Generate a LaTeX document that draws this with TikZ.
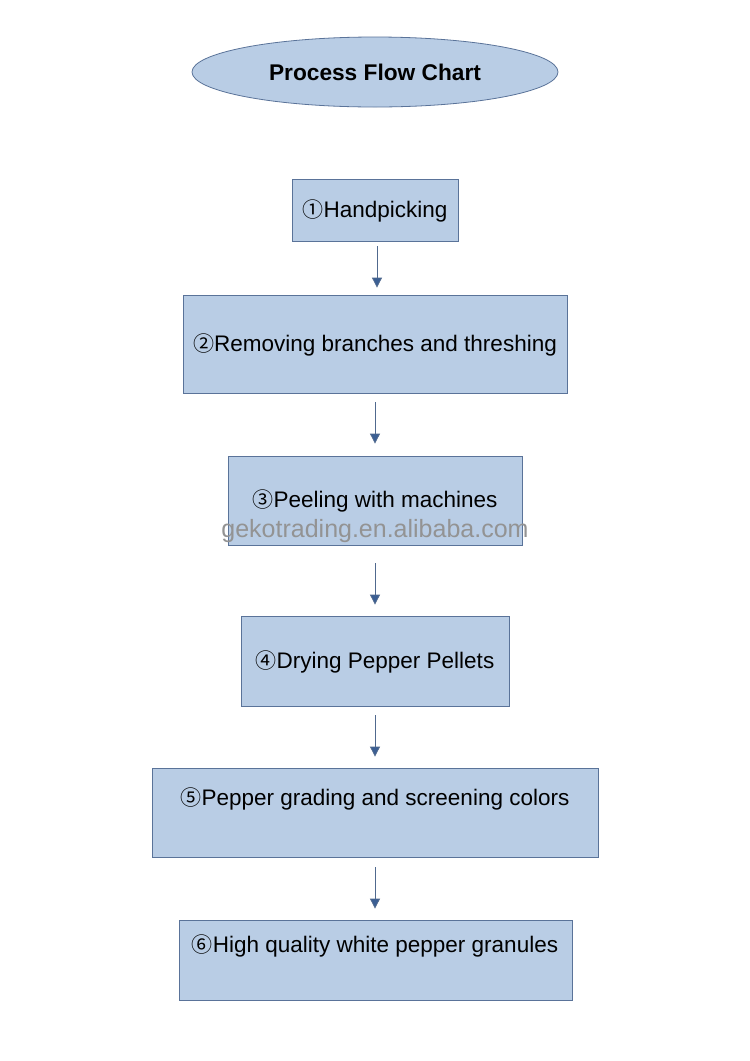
\documentclass[tikz,border=0pt]{standalone}
\usepackage{fontspec}
\setmainfont{Liberation Sans}
\newfontfamily\cjkfont{Noto Sans CJK SC}
\usetikzlibrary{shapes.geometric,arrows.meta}
\definecolor{boxfill}{HTML}{B9CDE5}
\definecolor{boxline}{HTML}{5A7399}
\definecolor{arrowcol}{HTML}{3B5F94}
\newcommand{\cnum}[1]{{\cjkfont\fontsize{21}{21}\selectfont #1}}
\tikzset{
  x=1pt, y=-1pt,
  stepbox/.style={draw=boxline, line width=0.8pt, fill=boxfill, rectangle, inner sep=0pt},
  steptext/.style={font=\fontsize{22.5}{26}\selectfont, text=black, inner sep=0pt},
  flow/.style={draw=arrowcol!70!gray, line width=0.8pt,
    -{Triangle[length=10pt,width=10pt,fill=arrowcol]}},
}
\begin{document}
\begin{tikzpicture}
\useasboundingbox (0,0) rectangle (750,1061);
\fill[white] (0,0) rectangle (750,1061);
\node[ellipse, draw=boxline, line width=0.8pt, fill=boxfill, minimum width=366pt, minimum height=70pt, inner sep=0pt,
  font=\bfseries\fontsize{22.7}{26}\selectfont] (title) at (375,72) {Process Flow Chart};

\node[stepbox, minimum width=166pt, minimum height=62pt] (s1) at (375,210) {};
\node[steptext] (t1) at (375,211) {\cnum{①}Handpicking};
\node[stepbox, minimum width=384pt, minimum height=98pt] (s2) at (375,344) {};
\node[steptext] (t2) at (375,345) {\cnum{②}Removing branches and threshing};
\node[stepbox, minimum width=294pt, minimum height=89pt] (s3) at (375,500.5) {};
\node[steptext] (t3) at (375,501) {\cnum{③}Peeling with machines};
\node[stepbox, minimum width=268pt, minimum height=90pt] (s4) at (375,661) {};
\node[steptext] (t4) at (375,662) {\cnum{④}Drying Pepper Pellets};
\node[stepbox, minimum width=446pt, minimum height=89pt] (s5) at (375,812.5) {};
\node[steptext] (t5) at (375,799) {\cnum{⑤}Pepper grading and screening colors};
\node[stepbox, minimum width=393pt, minimum height=80pt] (s6) at (375.5,960) {};
\node[steptext] (t6) at (375,946) {\cnum{⑥}High quality white pepper granules};

\node[text=gray!85, font=\fontsize{25}{28}\selectfont, inner sep=0pt] (wm) at (375,531) {gekotrading.en.alibaba.com};

\draw[flow] ([xshift=2pt,yshift=-5pt]s1.south) -- ([xshift=2pt,yshift=7pt]s2.north);
\draw[flow] ([yshift=-9pt]s2.south) -- ([yshift=12pt]s3.north);
\draw[flow] ([yshift=-18pt]s3.south) -- ([yshift=11pt]s4.north);
\draw[flow] ([yshift=-9pt]s4.south) -- ([yshift=11pt]s5.north);
\draw[flow] ([yshift=-10pt]s5.south) -- ([xshift=-0.5pt,yshift=11pt]s6.north);
\end{tikzpicture}
\end{document}
